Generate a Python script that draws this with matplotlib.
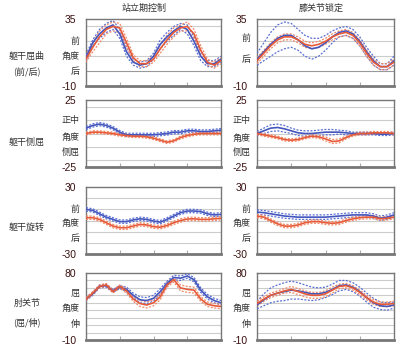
import matplotlib
matplotlib.use("Agg")
import matplotlib.pyplot as plt
import numpy as np

plt.rcParams['font.family'] = ['Noto Sans CJK SC', 'DejaVu Sans']

# ---------------- data ----------------
t = list(range(0, 101, 5))  # gait cycle %

col_titles = ["站立期控制", "膝关节锁定"]
row_labels = [["躯干屈曲", "(前/后)"], ["躯干侧屈"], ["躯干旋转"], ["肘关节", "(屈/伸)"]]
y_ranges = [(-10, 35), (-25, 25), (-30, 30), (-10, 80)]

# row 1: trunk flexion
r1_sc_blue = [9, 19, 25, 29, 31, 25, 13, 6, 4, 5, 10, 18, 23, 27, 30, 28, 20, 10, 5, 5, 8]
r1_sc_blue_sd = [2, 2, 3, 3, 3, 3, 3, 2, 2, 2, 2, 3, 3, 3, 2, 3, 3, 3, 2, 2, 2]
r1_sc_red = [8, 16, 23, 28, 30, 29, 19, 9, 5, 5, 8, 15, 21, 26, 29, 30, 25, 14, 6, 4, 7]
r1_sc_red_sd = [2, 3, 4, 3, 3, 3, 3, 2, 2, 2, 2, 3, 3, 3, 2, 3, 3, 3, 2, 2, 2]
r1_kl_blue = [8, 13, 18, 22, 24, 24, 21, 17, 15, 16, 19, 23, 26, 27, 25, 20, 13, 7, 3, 3, 7]
r1_kl_blue_sd = [4, 6, 8, 9, 9, 8, 7, 7, 7, 6, 5, 4, 3, 3, 3, 3, 3, 3, 2, 2, 3]
r1_kl_red = [7, 12, 17, 21, 23, 23, 21, 18, 17, 18, 20, 23, 25, 26, 24, 19, 12, 6, 3, 3, 6]
r1_kl_red_sd = [2, 2, 2, 2, 2, 2, 2, 2, 2, 2, 2, 2, 2, 2, 2, 2, 2, 2, 2, 2, 2]

# row 2: trunk lateral bending
r2_sc_blue = [4, 6, 7, 6, 4, 1, -1, -1, -1, -1, -1, -0.5, 0, 1, 1, 2, 2, 1.5, 1.5, 2, 2.5]
r2_sc_blue_sd = [1.2] * 21
r2_sc_red = [0, 1, 1, 0.5, 0, -1, -1.5, -2, -2, -2.5, -3.5, -5, -6.5, -5.5, -3, -1.5, -0.5, 0, 0, 0, 0]
r2_sc_red_sd = [1.0] * 21
r2_kl_blue = [0, 2, 4, 4.5, 3.5, 2, 0.5, 0, 0, 0.5, 1, 1, 1, 0.5, 0, 0, 0, 0, -0.5, -0.5, 0]
r2_kl_blue_sd = [1.5, 2, 2.5, 2.5, 2.5, 2, 2, 2, 2, 2, 2, 2, 1.5, 1.5, 1, 1, 1, 1, 1, 1, 1]
r2_kl_red = [0, -1, -2, -3, -4.5, -5, -4.5, -3, -2, -2.5, -4, -6, -5.5, -3, -1, 0, 0, 0.5, 0.5, 0.5, 0]
r2_kl_red_sd = [1, 1, 1, 1, 1, 1, 1, 1, 1, 1, 1.5, 1.5, 1.5, 1, 1, 1, 1, 1, 1, 1, 1]

# row 3: trunk rotation
r3_sc_blue = [10, 9, 6, 3, 1, -1, -1, 0.5, 1.5, 1, -0.5, -1.5, 1, 4, 7, 8.5, 8.5, 8, 6, 5, 5.5]
r3_sc_blue_sd = [1.5] * 21
r3_sc_red = [2.5, 2.5, 1, -2, -5, -6.5, -6.5, -5, -3.5, -4, -5.5, -6, -4.5, -2, 0, 1.3, 1.5, 1, 1, 1.5, 2]
r3_sc_red_sd = [1.5] * 21
r3_kl_blue = [7.5, 7, 6, 5, 4, 3.5, 3, 3, 3, 3, 3, 3.5, 4, 4.5, 5, 5, 5, 4, 2, 3, 5]
r3_kl_blue_sd = [2] * 21
r3_kl_red = [4, 3, 0, -3, -5, -5, -4, -2, -1, -1, -2, -2.5, -2, 0, 1.5, 2.5, 3, 3, 1.5, 2, 3]
r3_kl_red_sd = [1.5] * 21

# row 4: elbow
r4_sc_blue = [45, 52, 62, 63, 56, 61, 58, 50, 44, 43, 46, 55, 66, 74, 73, 76, 71, 57, 48, 43, 40]
r4_sc_blue_sd = [2, 2, 2, 2, 2, 2, 3, 3, 4, 4, 4, 4, 3, 3, 3, 3, 3, 3, 3, 3, 3]
r4_sc_red = [45, 53, 62, 64, 55, 62, 56, 45, 39, 37, 40, 48, 64, 71, 60, 58, 57, 45, 38, 36, 35]
r4_sc_red_sd = [2, 2, 2, 2, 2, 2, 3, 3, 4, 4, 4, 4, 3, 3, 4, 4, 4, 3, 3, 3, 3]
r4_kl_blue = [37, 44, 50, 53, 55, 57, 56, 54, 52, 52, 54, 58, 63, 64, 61, 55, 47, 40, 36, 35, 37]
r4_kl_blue_sd = [5, 8, 10, 11, 12, 12, 11, 10, 9, 8, 7, 7, 7, 6, 6, 6, 6, 6, 5, 5, 4]
r4_kl_red = [39, 45, 50, 53, 56, 58, 55, 52, 50, 50, 52, 57, 62, 63, 60, 54, 47, 41, 38, 38, 39]
r4_kl_red_sd = [3, 3, 3, 3, 3, 4, 4, 4, 4, 4, 4, 4, 3, 3, 3, 3, 3, 3, 3, 3, 3]

panels = [
    [(r1_sc_blue, r1_sc_blue_sd, r1_sc_red, r1_sc_red_sd), (r1_kl_blue, r1_kl_blue_sd, r1_kl_red, r1_kl_red_sd)],
    [(r2_sc_blue, r2_sc_blue_sd, r2_sc_red, r2_sc_red_sd), (r2_kl_blue, r2_kl_blue_sd, r2_kl_red, r2_kl_red_sd)],
    [(r3_sc_blue, r3_sc_blue_sd, r3_sc_red, r3_sc_red_sd), (r3_kl_blue, r3_kl_blue_sd, r3_kl_red, r3_kl_red_sd)],
    [(r4_sc_blue, r4_sc_blue_sd, r4_sc_red, r4_sc_red_sd), (r4_kl_blue, r4_kl_blue_sd, r4_kl_red, r4_kl_red_sd)],
]

# inner y labels: (text, value) for left and right columns
inner_labels = [
    [[("前", 20), ("角度", 10), ("后", 0)], [("前", 22), ("后", 8)]],
    [[("正中", 10), ("角度", -3), ("侧屈", -14)], [("正中", 10), ("角度", -4), ("侧屈", -14)]],
    [[("前", 10), ("角度", -3), ("后", -16)], [("前", 10), ("角度", -3), ("后", -16)]],
    [[("屈", 53), ("角度", 32), ("伸", 11)], [("屈", 53), ("角度", 32), ("伸", 11)]],
]

# ---------------- layout ----------------
W, H = 408, 356
fig = plt.figure(figsize=(W / 100, H / 100), dpi=100)
fig.patch.set_facecolor("white")

col_x = [(86, 135), (257, 137)]
row_y = [(19, 86), (100, 167), (187, 254), (273, 340)]

BLUE = "#4356bd"
BLUE_D = "#5a6fd2"
RED = "#e65a38"
RED_D = "#f08a68"
TICKC = "#3a1010"

t_arr = np.array(t)
for r in range(4):
    y0, y1 = row_y[r]
    lo, hi = y_ranges[r]
    for c in range(2):
        x0, w = col_x[c]
        ax = fig.add_axes([x0 / W, 1 - y1 / H, w / W, (y1 - y0) / H])
        blue, bsd, red, rsd = [np.array(a, dtype=float) for a in panels[r][c]]
        for m, s, cm, cd in [(blue, bsd, BLUE, BLUE_D), (red, rsd, RED, RED_D)]:
            ax.plot(t_arr, m + s, color=cd, lw=0.9, ls=(0, (1.6, 1.2)), zorder=3)
            ax.plot(t_arr, m - s, color=cd, lw=0.9, ls=(0, (1.6, 1.2)), zorder=3)
        ax.plot(t_arr, blue, color=BLUE, lw=1.2, zorder=4)
        ax.plot(t_arr, red, color=RED, lw=1.2, zorder=4)

        ax.set_xlim(0, 100)
        ax.set_ylim(lo, hi)
        grid_vals = [v for v in range(-30, 81, 10) if lo < v < hi]
        for v in grid_vals:
            ax.axhline(v, color="#999999" if (v == 0 and r == 0) else "#cccccc", lw=0.8, zorder=1)

        ax.set_yticks([lo, hi])
        ax.set_yticklabels([str(lo), str(hi)], fontsize=7.5, color=TICKC,
                           family=['Liberation Sans', 'DejaVu Sans'])
        ax.tick_params(axis="y", length=0, pad=7)
        ax.set_xticks([25, 50, 75])
        ax.set_xticklabels([])
        ax.tick_params(axis="x", direction="in", length=3, color="#aaaaaa", width=0.8)

        for s in ["left", "top", "right"]:
            ax.spines[s].set_color("#777777")
            ax.spines[s].set_linewidth(1.0)
        ax.spines["bottom"].set_color("#777777")
        ax.spines["bottom"].set_linewidth(2.0)

        for txt, v in inner_labels[r][c]:
            ax.text(-0.045, v, txt, transform=ax.get_yaxis_transform(), ha="right", va="center",
                    fontsize=6.5, color="#333333")

# column titles
fig.text(144 / W, 1 - 8 / H, col_titles[0], ha="center", va="center", fontsize=6.5, color="#333333")
fig.text(321 / W, 1 - 8 / H, col_titles[1], ha="center", va="center", fontsize=6.5, color="#333333")

# row labels
row_label_y = [[57, 73], [142], [227], [303, 322]]
for r in range(4):
    for lbl, yy in zip(row_labels[r], row_label_y[r]):
        fig.text(27 / W, 1 - yy / H, lbl, ha="center", va="center", fontsize=6.5, color="#333333")

fig.savefig("out.png", dpi=100, facecolor="white")
